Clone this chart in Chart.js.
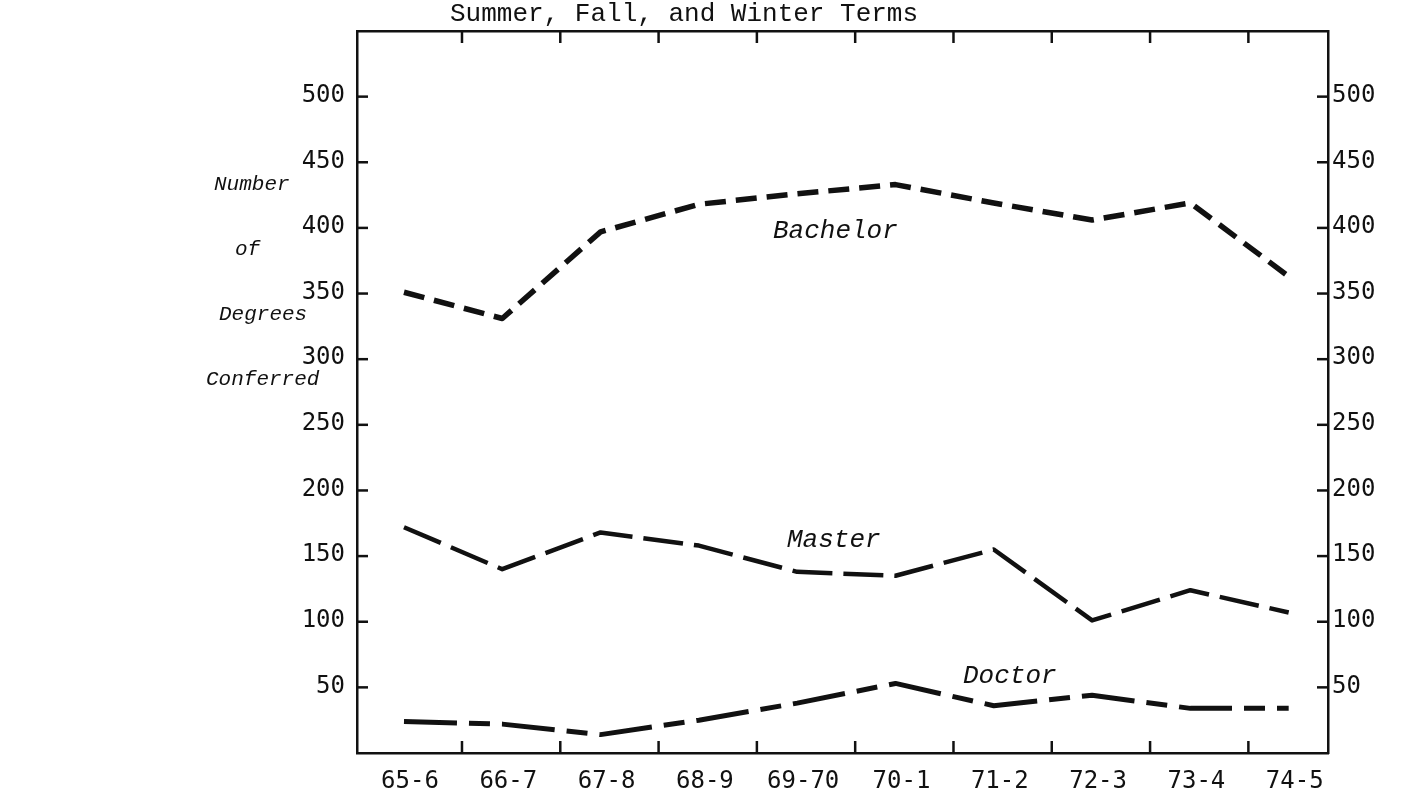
<!DOCTYPE html>
<html>
<head>
<meta charset="utf-8">
<script src="https://cdn.jsdelivr.net/npm/chart.js@4/dist/chart.umd.min.js"></script>
<style>
  html, body { margin: 0; padding: 0; background: #ffffff; }
  #wrap { width: 1424px; height: 798px; position: relative; }
</style>
</head>
<body>
<div id="wrap"><canvas id="c" width="1424" height="798"></canvas></div>
<script>
// ---- data ----
const categories = ['65-6', '66-7', '67-8', '68-9', '69-70', '70-1', '71-2', '72-3', '73-4', '74-5'];
const bachelor = [351, 331, 397, 418, 426, 433, 419, 406, 419, 363];
const master   = [172, 140, 168, 158, 138, 135, 155, 101, 124, 107];
const doctor   = [24, 22, 14, 25, 38, 53, 36, 44, 34, 34];
const yTickValues = [50, 100, 150, 200, 250, 300, 350, 400, 450, 500];
const titleText = 'Summer, Fall, and Winter Terms';
const yTitleLines = ['Number', 'of', 'Degrees', 'Conferred'];
const seriesNames = ['Bachelor', 'Master', 'Doctor'];

const toPts = arr => arr.map((v, i) => ({ x: i, y: v }));

const INK = '#111111';
const TICK_FONT = { family: '"DejaVu Sans Mono", monospace', size: 24 };
const X_MIN = -0.478, X_MAX = 9.40;

const decor = {
  id: 'decor',
  afterDraw(chart) {
    const { ctx, chartArea: a, scales } = chart;
    const x = scales.x, y = scales.y;
    ctx.save();
    ctx.strokeStyle = INK;
    ctx.lineWidth = 2.5;
    ctx.lineCap = 'butt';
    const seg = (x1, y1, x2, y2) => { ctx.beginPath(); ctx.moveTo(x1, y1); ctx.lineTo(x2, y2); ctx.stroke(); };
    // inward tick marks on top and bottom, between categories
    for (let i = 0; i < categories.length - 1; i++) {
      const px = x.getPixelForValue(i + 0.59);
      seg(px, a.bottom, px, a.bottom - 12);
      seg(px, a.top, px, a.top + 12);
    }
    // inward tick marks on left and right
    yTickValues.forEach(v => {
      const py = y.getPixelForValue(v);
      seg(a.left, py, a.left + 11, py);
      seg(a.right - 11, py, a.right, py);
    });
    // texts
    ctx.fillStyle = INK;
    ctx.textBaseline = 'alphabetic';
    ctx.textAlign = 'left';
    ctx.font = '26px "Liberation Mono", monospace';
    ctx.fillText(titleText, 450, 21);

    ctx.font = 'italic 26px "Liberation Mono", monospace';
    ctx.fillText(seriesNames[0], 773, 238);
    ctx.fillText(seriesNames[1], 787, 547);
    ctx.fillText(seriesNames[2], 963, 683);

    ctx.font = 'italic 21px "Liberation Mono", monospace';
    const yPos = [190, 255, 320, 385];
    const xPos = [214, 235, 219, 206];
    yTitleLines.forEach((t, i) => ctx.fillText(t, xPos[i], yPos[i]));
    ctx.restore();
  }
};

new Chart(document.getElementById('c'), {
  type: 'line',
  data: {
    datasets: [
      { label: seriesNames[0], data: toPts(bachelor), borderColor: INK, borderWidth: 5.5,
        borderDash: [21, 10], borderCapStyle: 'butt', borderJoinStyle: 'round',
        pointRadius: 0, tension: 0, fill: false },
      { label: seriesNames[1], data: toPts(master), borderColor: INK, borderWidth: 4.5,
        borderDash: [40, 11], borderCapStyle: 'butt', borderJoinStyle: 'round',
        pointRadius: 0, tension: 0, fill: false },
      { label: seriesNames[2], data: toPts(doctor), borderColor: INK, borderWidth: 5,
        borderDash: [53, 12, 21, 12], borderCapStyle: 'butt', borderJoinStyle: 'round',
        pointRadius: 0, tension: 0, fill: false }
    ]
  },
  options: {
    responsive: false,
    animation: false,
    events: [],
    layout: { padding: { top: 31, left: 0, right: 0, bottom: 0 } },
    plugins: { legend: { display: false }, title: { display: false }, tooltip: { enabled: false } },
    scales: {
      x: {
        type: 'linear', position: 'bottom', min: X_MIN, max: X_MAX,
        afterBuildTicks: s => { s.ticks = categories.map((_, i) => ({ value: i })); },
        afterFit: s => { s.height = 45; },
        grid: { display: false, drawTicks: false },
        border: { display: true, color: INK, width: 2.5 },
        ticks: { color: INK, font: TICK_FONT, padding: 14, labelOffset: 6, maxRotation: 0, autoSkip: false,
                 callback: v => categories[v] ?? '' }
      },
      x2: {
        type: 'linear', position: 'top', min: X_MIN, max: X_MAX,
        afterFit: s => { s.height = 0; },
        grid: { display: false, drawTicks: false },
        border: { display: true, color: INK, width: 2.5 },
        ticks: { display: false }
      },
      y: {
        position: 'left', min: 0, max: 550,
        afterBuildTicks: s => { s.ticks = yTickValues.map(v => ({ value: v })); },
        afterFit: s => { s.width = 357; },
        grid: { display: false, drawTicks: false },
        border: { display: true, color: INK, width: 2.5 },
        ticks: { color: INK, font: TICK_FONT, padding: 12, labelOffset: -1 }
      },
      y2: {
        position: 'right', min: 0, max: 550,
        afterBuildTicks: s => { s.ticks = yTickValues.map(v => ({ value: v })); },
        afterFit: s => { s.width = 96; },
        grid: { display: false, drawTicks: false },
        border: { display: true, color: INK, width: 2.5 },
        ticks: { color: INK, font: TICK_FONT, padding: 4, labelOffset: -1 }
      }
    }
  },
  plugins: [decor]
});
</script>
</body>
</html>
